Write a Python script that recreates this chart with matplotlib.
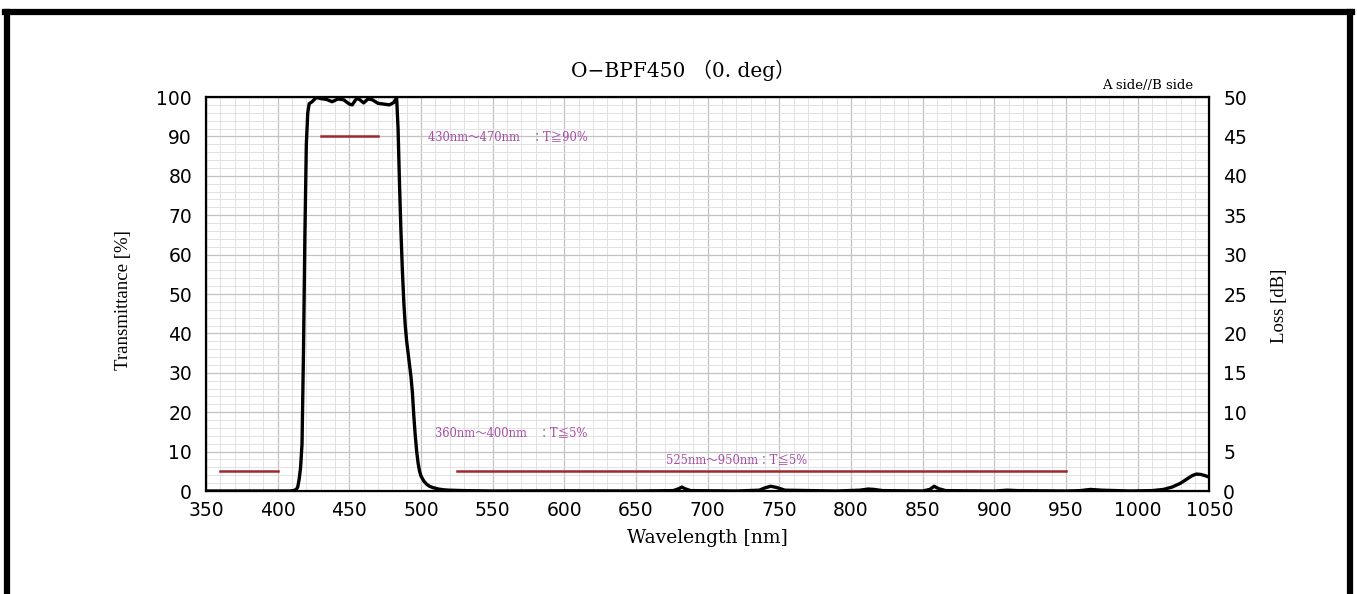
import matplotlib.pyplot as plt
from matplotlib.lines import Line2D
from matplotlib.ticker import MultipleLocator

# spectrum
wavelength = [350, 400, 408, 411, 413, 414, 415, 416, 417, 418, 419, 420, 421, 422,
              424, 427, 430, 434, 438, 442, 446, 450, 452, 455, 457, 460, 463, 466,
              470, 474, 478, 481, 483, 484, 485, 486, 487, 488, 489, 490, 491, 492,
              493, 494, 495, 496, 497, 498, 499, 500, 502, 504, 506, 508, 512, 516,
              520, 530, 550, 600, 650, 676, 680, 682, 684, 688, 720, 736, 740, 744,
              748, 754, 790, 806, 812, 816, 822, 850, 855, 858, 861, 866, 900, 909,
              916, 950, 960, 967, 975, 995, 1010, 1018, 1024, 1030, 1035, 1038, 1041,
              1044, 1047, 1050]
transmittance = [0.0, 0.0, 0.0, 0.1, 0.4, 1.0, 3.0, 6.0, 12.0, 35.0, 65.0, 88.0, 96.0, 98.3,
                 98.8, 99.9, 99.6, 99.4, 98.8, 99.5, 99.3, 98.2, 98.0, 99.6, 99.4, 98.5, 99.5, 99.3,
                 98.4, 98.2, 98.0, 98.6, 99.8, 92.0, 78.0, 66.0, 56.0, 48.0, 42.0, 38.0, 35.0, 32.0,
                 29.0, 25.0, 19.0, 14.0, 10.0, 7.0, 5.0, 3.8, 2.5, 1.7, 1.2, 0.9, 0.5, 0.3,
                 0.2, 0.1, 0.0, 0.05, 0.0, 0.1, 0.6, 1.0, 0.6, 0.1, 0.0, 0.2, 0.8, 1.2,
                 0.9, 0.2, 0.0, 0.2, 0.5, 0.4, 0.1, 0.0, 0.4, 1.2, 0.6, 0.1, 0.0, 0.2,
                 0.1, 0.0, 0.1, 0.4, 0.2, 0.0, 0.1, 0.4, 1.0, 2.0, 3.2, 3.9, 4.3,
                 4.2, 3.9, 3.5]

# spec limits: (start, end, level)
spec_lines = [(360, 400, 5), (430, 470, 90), (525, 950, 5)]
spec_texts = [(505, 89.8, "430nm～470nm　：T≧90%"),
              (510, 14.7, "360nm～400nm　：T≦5%"),
              (671, 7.9, "525nm～950nm：T≦5%")]

serif = ['DejaVu Serif', 'Noto Sans CJK JP']
narrow_serif = ['Liberation Serif', 'Noto Sans CJK JP']
purple = '#a64ca6'

fig = plt.figure(figsize=(13.57, 5.94), dpi=100)
ax = fig.add_axes([0.1518, 0.1734, 0.7394, 0.6633])

ax.plot(wavelength, transmittance, color='black', linewidth=2.4, zorder=5)
for x0, x1, lvl in spec_lines:
    ax.plot([x0, x1], [lvl, lvl], color='#a3262a', linewidth=1.8, zorder=4)
for x, y, s in spec_texts:
    ax.text(x, y, s, color=purple, fontsize=8.3, family=serif, va='center', ha='left')

ax.set_xlim(350, 1050)
ax.set_ylim(0, 100)
ax.xaxis.set_major_locator(MultipleLocator(50))
ax.xaxis.set_minor_locator(MultipleLocator(10))
ax.yaxis.set_major_locator(MultipleLocator(10))
ax.yaxis.set_minor_locator(MultipleLocator(2))
ax.grid(which='major', color='#c2c2c2', linewidth=0.9)
ax.grid(which='minor', color='#e2e2e2', linewidth=0.7)
ax.set_axisbelow(True)
for sp in ax.spines.values():
    sp.set_linewidth(1.6)
ax.tick_params(which='both', length=0)
ax.tick_params(axis='y', pad=10, labelsize=13.5)
ax.tick_params(axis='x', pad=7, labelsize=13.5)
for lab in ax.get_xticklabels() + ax.get_yticklabels():
    lab.set_family('DejaVu Sans')

ax2 = ax.twinx()
ax2.set_ylim(0, 50)
ax2.yaxis.set_major_locator(MultipleLocator(5))
ax2.tick_params(which='both', length=0, pad=10, labelsize=13.5)
for lab in ax2.get_yticklabels():
    lab.set_family('DejaVu Sans')

ax.set_xlabel("Wavelength [nm]", family=serif, fontsize=13.5)
ax.xaxis.set_label_coords(0.5, -0.097)
ax.set_ylabel("Transmittance [%]", family=narrow_serif, fontsize=13.5)
ax.yaxis.set_label_coords(-0.074, 0.485)
ax2.set_ylabel("Loss [dB]", family=narrow_serif, fontsize=13.5)
ax2.yaxis.set_label_coords(1.061, 0.47)
fig.text(683 / 1357, 1 - 70 / 594, "O−BPF450 （0. deg）", family=serif, fontsize=14.5,
         ha='center', va='center')
ax.text(0.984, 1.012, "A side//B side", transform=ax.transAxes, family=serif,
        fontsize=9.5, ha='right', va='bottom')

# frame around the page
fig.add_artist(Line2D([0.0051, 0.0051], [0.0, 0.980], color='black', linewidth=4.5))
fig.add_artist(Line2D([0.9950, 0.9950], [0.0, 0.980], color='black', linewidth=4.5))
fig.add_artist(Line2D([0.0035, 0.9966], [0.980, 0.980], color='black', linewidth=4.5))

fig.savefig('out.png', dpi=100)
